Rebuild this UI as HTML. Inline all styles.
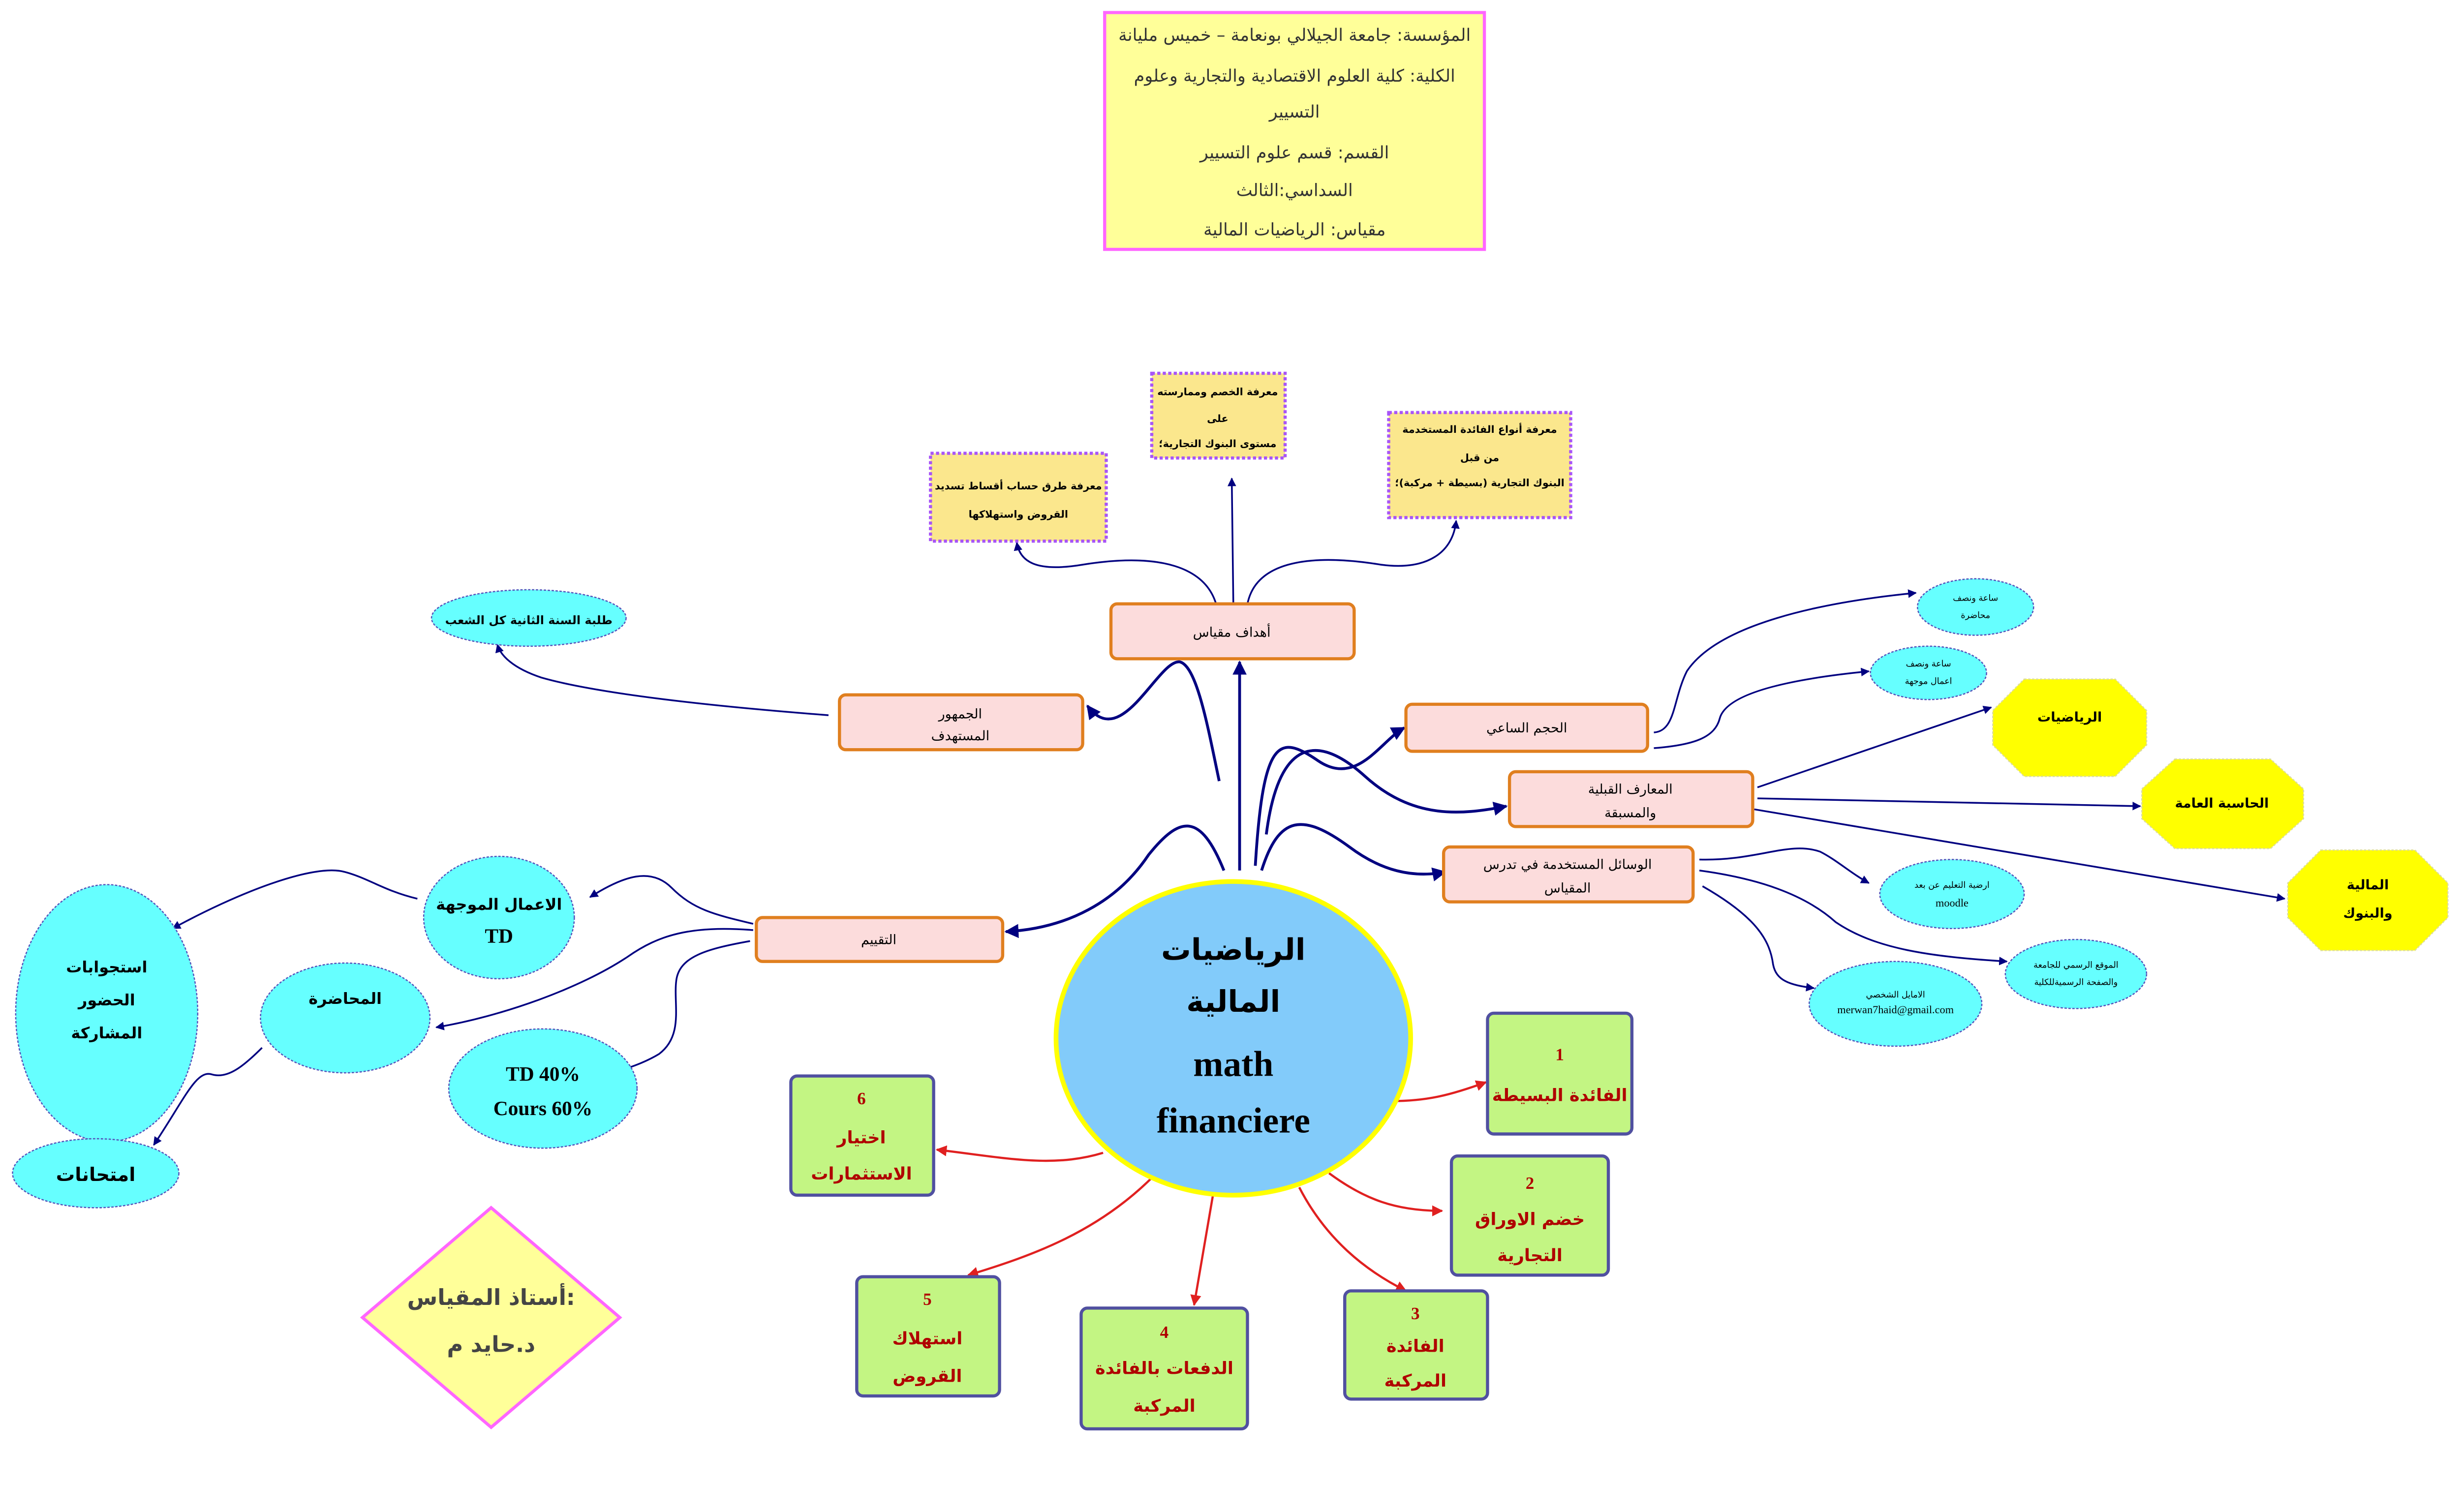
<!DOCTYPE html>
<html><head><meta charset="utf-8"><style>
html,body{margin:0;padding:0;background:#fff;}
svg{display:block;}
text{font-family:"DejaVu Sans","Liberation Serif",serif;text-anchor:middle;}
.o{fill:#fcdcdc;stroke:#e07f1f;stroke-width:2;}
.y{fill:#fbe78d;stroke:#a855f7;stroke-width:2;stroke-dasharray:2 1.5;}
.c{fill:#66ffff;stroke:#5555bb;stroke-width:0.8;stroke-dasharray:1.5 1;}
.g{fill:#c3f583;stroke:#5050a0;stroke-width:2;}
.oc{fill:#ffff00;stroke:#dddd99;stroke-width:0.8;stroke-dasharray:1.5 1;}
.n{fill:none;stroke:#000080;stroke-width:1.8;}
.t{fill:none;stroke:#000080;stroke-width:1.1;}
.r{fill:none;stroke:#e02020;stroke-width:1.4;}
.gt{fill:#b00000;font-weight:bold;font-size:11px;}
</style></head><body>
<svg width="5240" height="3074" viewBox="0 0 1643 964" preserveAspectRatio="none" xmlns="http://www.w3.org/2000/svg">
<defs>
<marker id="an" viewBox="0 0 10 10" refX="9" refY="5" markerWidth="5" markerHeight="5" orient="auto"><path d="M0,0 L10,5 L0,10 z" fill="#000080"/></marker>
<marker id="ar" viewBox="0 0 10 10" refX="9" refY="5" markerWidth="5" markerHeight="5" orient="auto"><path d="M0,0 L10,5 L0,10 z" fill="#e02020"/></marker>
</defs>

<rect x="704" y="8" width="242" height="151" fill="#ffff99" stroke="#ff66ff" stroke-width="2"/>
<g font-size="11" fill="#333">
<text x="825" y="26">المؤسسة: جامعة الجيلالي بونعامة – خميس مليانة</text>
<text x="825" y="52">الكلية: كلية العلوم الاقتصادية والتجارية وعلوم</text>
<text x="825" y="75">التسيير</text>
<text x="825" y="101">القسم: قسم علوم التسيير</text>
<text x="825" y="125">السداسي:الثالث</text>
<text x="825" y="150">مقياس: الرياضيات المالية</text>
</g>

<path class="n" marker-end="url(#an)" d="M790,555 L790,422"/>
<path class="n" marker-end="url(#an)" d="M777,498 C770,465 763,425 752,422 C738,420 715,480 693,450"/>
<path class="n" marker-end="url(#an)" d="M800,552 C805,470 815,468 840,485 C865,502 880,472 895,464"/>
<path class="n" marker-end="url(#an)" d="M807,532 C815,470 840,468 870,495 C900,522 930,520 960,514"/>
<path class="n" marker-end="url(#an)" d="M804,555 C815,520 830,518 860,540 C880,555 900,560 921,556"/>
<path class="n" marker-end="url(#an)" d="M780,555 C765,518 752,520 732,545 C712,575 680,592 641,594"/>
<path class="t" marker-end="url(#an)" d="M775,385 C768,362 740,352 690,360 C660,365 650,358 648,346"/>
<path class="t" marker-end="url(#an)" d="M786,385 L785,305"/>
<path class="t" marker-end="url(#an)" d="M795,385 C800,360 830,352 880,360 C910,364 926,352 928,332"/>
<path class="t" marker-end="url(#an)" d="M528,456 C450,450 380,442 345,432 C327,426 319,418 317,411"/>
<path class="t" marker-end="url(#an)" d="M1054,467 C1068,466 1066,446 1075,428 C1095,398 1160,384 1221,378"/>
<path class="t" marker-end="url(#an)" d="M1054,477 C1080,475 1093,470 1096,458 C1101,440 1150,432 1191,428"/>
<path class="t" marker-end="url(#an)" d="M1120,502 L1269,451"/>
<path class="t" marker-end="url(#an)" d="M1120,509 L1364,514"/>
<path class="t" marker-end="url(#an)" d="M1118,516 L1456,573"/>
<path class="t" marker-end="url(#an)" d="M1083,548 C1120,549 1140,536 1160,543 C1170,548 1180,557 1191,563"/>
<path class="t" marker-end="url(#an)" d="M1083,555 C1120,560 1150,570 1170,588 C1195,605 1230,610 1279,613"/>
<path class="t" marker-end="url(#an)" d="M1085,565 C1120,585 1128,600 1130,615 C1132,625 1140,628 1156,630"/>
<path class="t" marker-end="url(#an)" d="M480,589 C455,583 442,580 428,566 C415,553 398,558 376,572"/>
<path class="t" marker-end="url(#an)" d="M480,593 C440,590 420,596 400,610 C370,630 320,648 278,655"/>
<path class="t" marker-end="url(#an)" d="M478,600 C450,605 433,610 431,625 C429,640 436,660 420,672 C410,678 400,681 391,684"/>
<path class="t" marker-end="url(#an)" d="M266,573 C245,568 235,560 220,556 C200,550 150,570 110,592"/>
<path class="t" marker-end="url(#an)" d="M167,668 C155,680 145,688 135,685 C125,682 118,700 98,730"/>

<path class="r" marker-end="url(#ar)" d="M887,702 C910,702 925,698 947,690"/>
<path class="r" marker-end="url(#ar)" d="M847,748 C870,765 890,772 919,772"/>
<path class="r" marker-end="url(#ar)" d="M828,757 C845,790 870,810 896,823"/>
<path class="r" marker-end="url(#ar)" d="M773,762 L761,832"/>
<path class="r" marker-end="url(#ar)" d="M735,750 C700,785 660,800 617,813"/>
<path class="r" marker-end="url(#ar)" d="M703,735 C670,745 640,738 597,733"/>

<ellipse cx="786" cy="662" rx="113" ry="100" fill="#82cbfa" stroke="#ffff00" stroke-width="3"/>
<g font-weight="bold" fill="#000">
<text x="786" y="612" font-size="19">الرياضيات</text>
<text x="786" y="645" font-size="19">المالية</text>
<text x="786" y="686" font-size="23" style="font-family:'Liberation Serif',serif">math</text>
<text x="786" y="722" font-size="23" style="font-family:'Liberation Serif',serif">financiere</text>
</g>

<g font-size="8.5" fill="#000">
<rect class="o" x="708" y="385" width="155" height="35" rx="4"/><text x="785" y="406">أهداف مقياس</text>
<rect class="o" x="535" y="443" width="155" height="35" rx="4"/><text x="612" y="458">الجمهور</text><text x="612" y="472">المستهدف</text>
<rect class="o" x="896" y="449" width="154" height="30" rx="4"/><text x="973" y="467">الحجم الساعي</text>
<rect class="o" x="962" y="492" width="155" height="35" rx="4"/><text x="1039" y="506">المعارف القبلية</text><text x="1039" y="521">والمسبقة</text>
<rect class="o" x="920" y="540" width="159" height="35" rx="4"/><text x="999" y="554">الوسائل المستخدمة في تدرس</text><text x="999" y="569">المقياس</text>
<rect class="o" x="482" y="585" width="157" height="28" rx="4"/><text x="560" y="602">التقييم</text>
</g>

<g font-size="6.5" fill="#000" font-weight="bold">
<rect class="y" x="593" y="289" width="112" height="56"/><text x="649" y="312">معرفة طرق حساب أقساط تسديد</text><text x="649" y="330">القروض واستهلاكها</text>
<rect class="y" x="734" y="238" width="85" height="54"/><text x="776" y="252">معرفة الخصم وممارسته</text><text x="776" y="269">على</text><text x="776" y="285">مستوى البنوك التجارية؛</text>
<rect class="y" x="885" y="263" width="116" height="67"/><text x="943" y="276">معرفة أنواع الفائدة المستخدمة</text><text x="943" y="294">من قبل</text><text x="943" y="310">البنوك التجارية (بسيطة + مركبة)؛</text>
</g>

<g fill="#000">
<ellipse class="c" cx="337" cy="394" rx="62" ry="18"/><text x="337" y="398" font-size="7.5" font-weight="bold">طلبة السنة الثانية كل الشعب</text>
<ellipse class="c" cx="1259" cy="387" rx="37" ry="18"/><text x="1259" y="383" font-size="5.5">ساعة ونصف</text><text x="1259" y="394" font-size="5.5">محاضرة</text>
<ellipse class="c" cx="1229" cy="429" rx="37" ry="17"/><text x="1229" y="425" font-size="5.5">ساعة ونصف</text><text x="1229" y="436" font-size="5.5">اعمال موجهة</text>
<ellipse class="c" cx="1244" cy="570" rx="46" ry="22"/><text x="1244" y="566" font-size="5.5">ارضية التعليم عن بعد</text><text x="1244" y="578" font-size="7" style="font-family:'Liberation Serif',serif">moodle</text>
<ellipse class="c" cx="1323" cy="621" rx="45" ry="22"/><text x="1323" y="617" font-size="5.5">الموقع الرسمي للجامعة</text><text x="1323" y="628" font-size="5.5">والصفحة الرسميةللكلية</text>
<ellipse class="c" cx="1208" cy="640" rx="55" ry="27"/><text x="1208" y="636" font-size="5.5">الامايل الشخصي</text><text x="1208" y="646" font-size="7" style="font-family:'Liberation Serif',serif">merwan7haid@gmail.com</text>
<ellipse class="c" cx="318" cy="585" rx="48" ry="39"/><text x="318" y="580" font-size="10" font-weight="bold">الاعمال الموجهة</text><text x="318" y="601" font-size="13" font-weight="bold" style="font-family:'Liberation Serif',serif">TD</text>
<ellipse class="c" cx="68" cy="646" rx="58" ry="82"/><text x="68" y="620" font-size="10" font-weight="bold">استجوابات</text><text x="68" y="641" font-size="10" font-weight="bold">الحضور</text><text x="68" y="662" font-size="10" font-weight="bold">المشاركة</text>
<ellipse class="c" cx="220" cy="649" rx="54" ry="35"/><text x="220" y="640" font-size="10" font-weight="bold">المحاضرة</text>
<ellipse class="c" cx="346" cy="694" rx="60" ry="38"/><text x="346" y="689" font-size="13" font-weight="bold" style="font-family:'Liberation Serif',serif">TD 40%</text><text x="346" y="711" font-size="13" font-weight="bold" style="font-family:'Liberation Serif',serif">Cours 60%</text>
<ellipse class="c" cx="61" cy="748" rx="53" ry="22"/><text x="61" y="753" font-size="12" font-weight="bold">امتحانات</text>
</g>

<g fill="#000" font-weight="bold" font-size="8.5">
<polygon class="oc" points="1290,433 1348,433 1368,453 1368,475 1348,495 1290,495 1270,475 1270,453"/><text x="1319" y="460">الرياضيات</text>
<polygon class="oc" points="1386,484 1447,484 1468,503 1468,522 1447,541 1386,541 1365,522 1365,503"/><text x="1416" y="515">الحاسبة العامة</text>
<polygon class="oc" points="1479,542 1539,542 1560,563 1560,585 1539,606 1479,606 1458,585 1458,563"/><text x="1509" y="567">المالية</text><text x="1509" y="585">والبنوك</text>
</g>

<rect class="g" x="948" y="646" width="92" height="77" rx="4"/><text class="gt" x="994" y="676" style="font-family:'Liberation Serif',serif" font-size="15">1</text><text class="gt" x="994" y="702" font-size="9.5">الفائدة البسيطة</text>
<rect class="g" x="925" y="737" width="100" height="76" rx="4"/><text class="gt" x="975" y="758" style="font-family:'Liberation Serif',serif" font-size="15">2</text><text class="gt" x="975" y="781">خضم الاوراق</text><text class="gt" x="975" y="804">التجارية</text>
<rect class="g" x="857" y="823" width="91" height="69" rx="4"/><text class="gt" x="902" y="841" style="font-family:'Liberation Serif',serif" font-size="14">3</text><text class="gt" x="902" y="862" font-size="10">الفائدة</text><text class="gt" x="902" y="884" font-size="10">المركبة</text>
<rect class="g" x="689" y="834" width="106" height="77" rx="4"/><text class="gt" x="742" y="853" style="font-family:'Liberation Serif',serif" font-size="15">4</text><text class="gt" x="742" y="876" font-size="10">الدفعات بالفائدة</text><text class="gt" x="742" y="900">المركبة</text>
<rect class="g" x="546" y="814" width="91" height="76" rx="4"/><text class="gt" x="591" y="832" style="font-family:'Liberation Serif',serif" font-size="15">5</text><text class="gt" x="591" y="857">استهلاك</text><text class="gt" x="591" y="881">القروض</text>
<rect class="g" x="504" y="686" width="91" height="76" rx="4"/><text class="gt" x="549" y="704" style="font-family:'Liberation Serif',serif" font-size="15">6</text><text class="gt" x="549" y="729">اختيار</text><text class="gt" x="549" y="752" font-size="10">الاستثمارات</text>

<polygon points="313,770 395,840 313,910 231,840" fill="#ffff99" stroke="#ff66ff" stroke-width="2"/>
<text x="313" y="832" font-size="14" fill="#444" font-weight="bold">أستاذ المقياس:</text>
<text x="313" y="862" font-size="14" fill="#444" font-weight="bold">د.حايد  م</text>
</svg>
</body></html>
